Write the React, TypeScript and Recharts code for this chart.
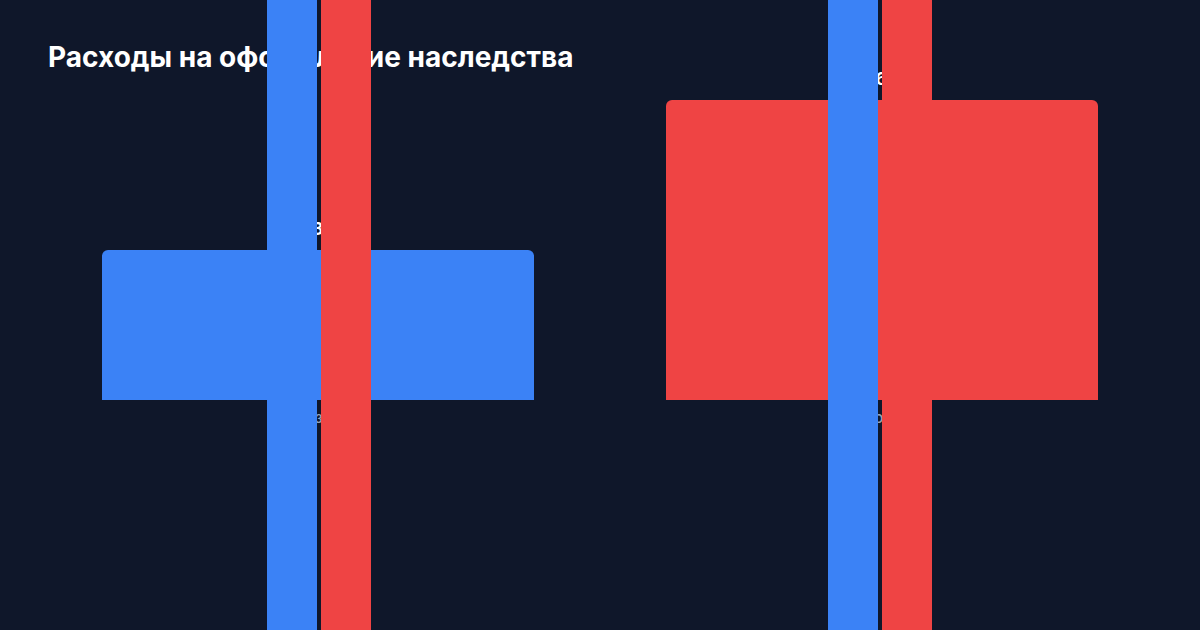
import { BarChart, Bar, XAxis, YAxis, Cell, LabelList } from 'recharts';

// категории и значения (госпошлина, % от стоимости наследства)
const categories = ['Близкие', 'Прочие'];
const dutyValues = [0.3, 0.6];
const dutyLabels = ['0,3%', '0,6%'];
const barColors = ['#3b82f6', '#ef4444'];

// вертикальные полосы поверх графика
const blueStripe = [1, 1];
const redStripe = [1, 1];

const BG = '#0f172a';
const FONT = 'Inter, "Noto Sans", sans-serif';

const mainData = categories.map((name, i) => ({
  name,
  value: dutyValues[i],
  label: dutyLabels[i],
}));

const stripeData = categories.map((name, i) => ({
  name,
  blue: blueStripe[i],
  red: redStripe[i],
}));

export default function App() {
  return (
    <div
      style={{
        position: 'fixed',
        top: 0,
        left: 0,
        width: 1200,
        height: 630,
        background: BG,
        overflow: 'hidden',
        fontFamily: FONT,
      }}
    >
      <div
        style={{
          position: 'absolute',
          left: 48,
          top: 40,
          color: '#ffffff',
          fontSize: 28,
          fontWeight: 700,
          lineHeight: '34px',
          whiteSpace: 'nowrap',
        }}
      >
        Расходы на оформление наследства
      </div>

      <div style={{ position: 'absolute', top: 0, left: 0 }}>
        <BarChart
          width={1200}
          height={630}
          data={mainData}
          margin={{ top: 0, right: 36, bottom: 0, left: 36 }}
        >
          <XAxis dataKey="name" hide />
          <YAxis hide domain={[-0.46, 0.8]} allowDataOverflow />
          <Bar dataKey="value" barSize={432} radius={[6, 6, 0, 0]} isAnimationActive={false}>
            {mainData.map((d, i) => (
              <Cell key={d.name} fill={barColors[i]} />
            ))}
            <LabelList
              dataKey="label"
              position="top"
              offset={15}
              fill="#ffffff"
              style={{ fontSize: 18, fontWeight: 700, fontFamily: FONT }}
            />
            <LabelList
              dataKey="name"
              position="bottom"
              offset={12}
              fill="#94a3b8"
              style={{ fontSize: 15, fontWeight: 500, fontFamily: FONT }}
            />
          </Bar>
        </BarChart>
      </div>

      <div style={{ position: 'absolute', top: 0, left: 0 }}>
        <BarChart
          width={1200}
          height={630}
          data={stripeData}
          barSize={50}
          barGap={4}
          margin={{ top: 0, right: 40, bottom: 0, left: 38 }}
        >
          <XAxis dataKey="name" hide />
          <YAxis hide domain={[0, 1]} />
          <Bar dataKey="blue" fill="#3b82f6" isAnimationActive={false} />
          <Bar dataKey="red" fill="#ef4444" isAnimationActive={false} />
        </BarChart>
      </div>
    </div>
  );
}
